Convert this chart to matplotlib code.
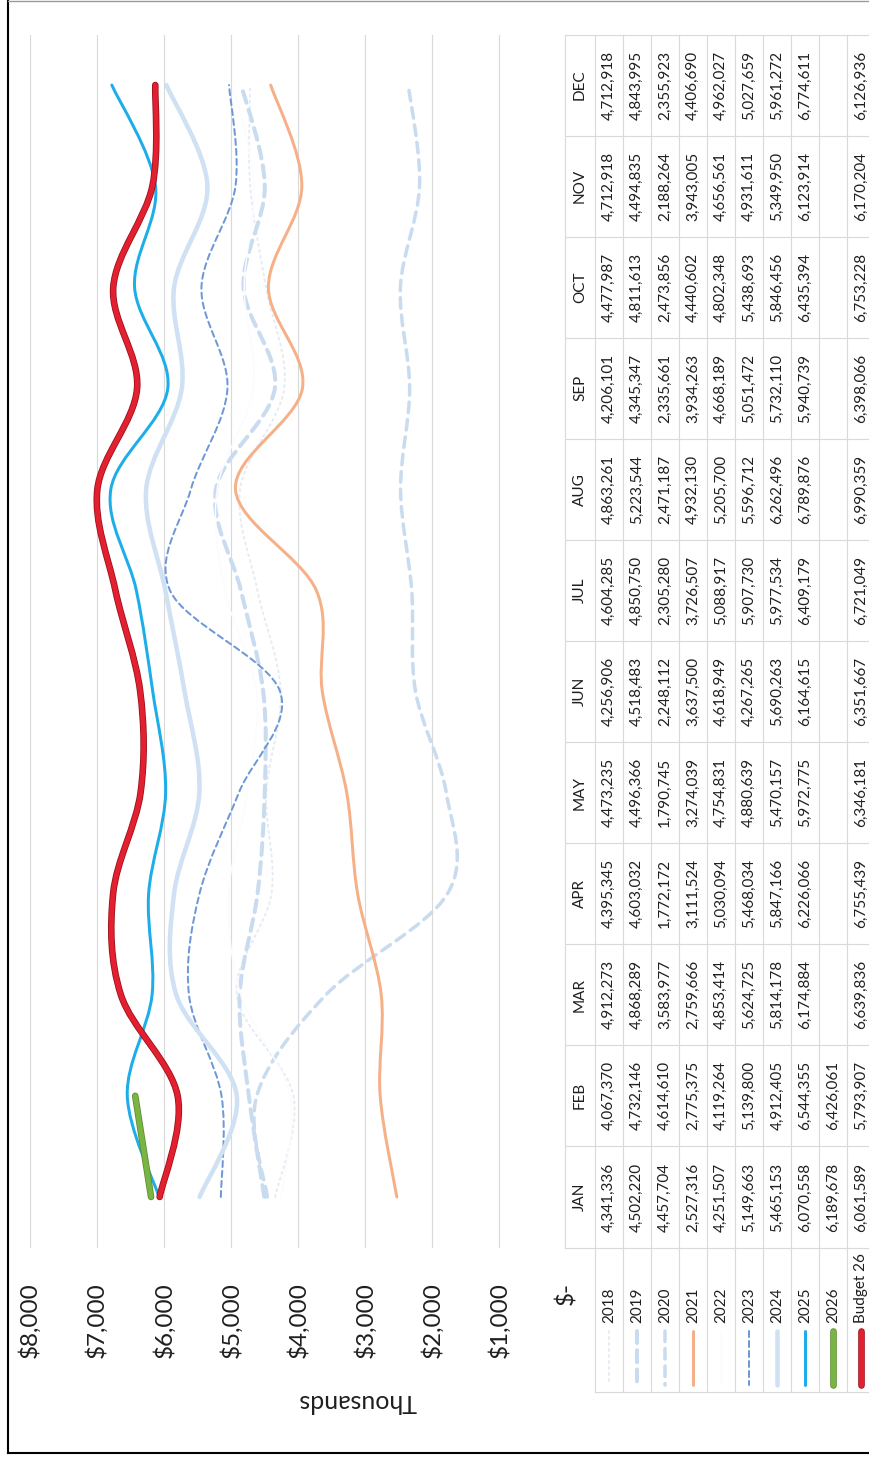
import numpy as np
import matplotlib.pyplot as plt
from matplotlib.path import Path
from matplotlib.patches import PathPatch
from matplotlib.lines import Line2D
import matplotlib.patheffects as pe

plt.rcParams['font.family'] = ['Lato', 'DejaVu Sans']

months = ['JAN', 'FEB', 'MAR', 'APR', 'MAY', 'JUN',
          'JUL', 'AUG', 'SEP', 'OCT', 'NOV', 'DEC']
series_names = ['2018', '2019', '2020', '2021', '2022',
                '2023', '2024', '2025', '2026', 'Budget 26']

v2018 = [4341336, 4067370, 4912273, 4395345, 4473235, 4256906,
         4604285, 4863261, 4206101, 4477987, 4712918, 4712918]
v2019 = [4502220, 4732146, 4868289, 4603032, 4496366, 4518483,
         4850750, 5223544, 4345347, 4811613, 4494835, 4843995]
v2020 = [4457704, 4614610, 3583977, 1772172, 1790745, 2248112,
         2305280, 2471187, 2335661, 2473856, 2188264, 2355923]
v2021 = [2527316, 2775375, 2759666, 3111524, 3274039, 3637500,
         3726507, 4932130, 3934263, 4440602, 3943005, 4406690]
v2022 = [4251507, 4119264, 4853414, 5030094, 4754831, 4618949,
         5088917, 5205700, 4668189, 4802348, 4656561, 4962027]
v2023 = [5149663, 5139800, 5624725, 5468034, 4880639, 4267265,
         5907730, 5596712, 5051472, 5438693, 4931611, 5027659]
v2024 = [5465153, 4912405, 5814178, 5847166, 5470157, 5690263,
         5977534, 6262496, 5732110, 5846456, 5349950, 5961272]
v2025 = [6070558, 6544355, 6174884, 6226066, 5972775, 6164615,
         6409179, 6789876, 5940739, 6435394, 6123914, 6774611]
v2026 = [6189678, 6426061]
budget26 = [6061589, 5793907, 6639836, 6755439, 6346181, 6351667,
            6721049, 6990359, 6398066, 6753228, 6170204, 6126936]

all_series = [v2018, v2019, v2020, v2021, v2022,
              v2023, v2024, v2025, v2026, budget26]

value_ticks = [0, 1000, 2000, 3000, 4000, 5000, 6000, 7000, 8000]

# line looks, widths in pixels, dashes in line-width units
colors = ['#E6ECF4', '#C8DBEF', '#C8DBEF', '#F6B088', '#FBFCFE',
          '#6E98D6', '#CFE1F3', '#1DAEEA', '#7AB544', '#E2202F']
widths = [2, 4, 3.5, 3, 1.5, 2, 4.5, 3, 5, 5]
dashes = [(1, 2), (3, 1.8), (3, 2), None, None,
          (3, 2), None, None, None, None]
edges = [None] * 8 + ['#5A8C30', '#9A0F1B']

PX = 72 / 100
W, H = 869, 1459
TXT = '#1F1F1F'
GRID = '#D9D9D9'


def fx(px):
    return px / W


def fy(py):
    return 1 - py / H


def smooth_path(xs, ys):
    pts = np.column_stack([xs, ys]).astype(float)
    n = len(pts)
    verts = [pts[0]]
    codes = [Path.MOVETO]
    for i in range(n - 1):
        p0 = pts[i - 1] if i > 0 else pts[i]
        p1 = pts[i]
        p2 = pts[i + 1]
        p3 = pts[i + 2] if i + 2 < n else pts[i + 1]
        verts += [p1 + (p2 - p0) / 6, p2 - (p3 - p1) / 6, p2]
        codes += [Path.CURVE4] * 3
    return Path(verts, codes)


def style(i):
    kw = dict(color=colors[i], lw=widths[i] * PX)
    if dashes[i] is not None:
        kw['linestyle'] = (0, dashes[i])
    if edges[i] is not None:
        kw['path_effects'] = [pe.Stroke(linewidth=(widths[i] + 1.6) * PX,
                                        foreground=edges[i]), pe.Normal()]
    return kw


fig = plt.figure(figsize=(W / 100, H / 100), dpi=100)

# chart area (page is turned: values run right to left, months bottom to top)
ax = fig.add_axes([fx(29.6), fy(1247.5), fx(566.4) - fx(29.6), fy(34.5) - fy(1247.5)])
ax.set_xlim(8000, 0)
ax.set_ylim(-0.5, 11.5)
for s in ax.spines.values():
    s.set_visible(False)
ax.set_yticks([])
ax.set_xticks(value_ticks)
ax.set_xticklabels(['$-' if v == 0 else f'${v:,}' for v in value_ticks])
ax.tick_params(axis='x', length=0, pad=25, labelsize=17.5, labelrotation=90, labelcolor=TXT)
ax.grid(axis='x', color=GRID, lw=0.8)
ax.set_xlabel('Thousands', rotation=180, fontsize=18, color=TXT)
ax.xaxis.set_label_coords((357 - 29.6) / 536.8, (1247.5 - 1402) / 1213)
ax.xaxis.label.set_va('center')

for i, vals in enumerate(all_series):
    xs = np.array(vals) / 1000
    ys = np.arange(len(vals))
    kw = style(i)
    patch = PathPatch(smooth_path(xs, ys), fill=False, edgecolor=kw['color'],
                      lw=kw['lw'], linestyle=kw.get('linestyle', '-'),
                      capstyle='round', joinstyle='round', zorder=2 + i)
    if 'path_effects' in kw:
        patch.set_path_effects(kw['path_effects'])
    ax.add_patch(patch)

# data table
ybot = -0.5 - (1392 - 1247.5) / 101.1
hdr = -30 / 28.03
ax_t = fig.add_axes([fx(565), fy(1392), fx(875.3) - fx(565), fy(34.5) - fy(1392)])
ax_t.set_xlim(hdr, 10)
ax_t.set_ylim(ybot, 11.5)
ax_t.axis('off')

for k in range(13):
    ax_t.plot([hdr, 10], [k - 0.5, k - 0.5], color=GRID, lw=0.8, clip_on=False)
ax_t.plot([0, 10], [ybot, ybot], color=GRID, lw=0.8, clip_on=False)
ax_t.plot([hdr, hdr], [-0.5, 11.5], color=GRID, lw=0.8, clip_on=False)
for c in range(11):
    ax_t.plot([c, c], [ybot, 11.5], color=GRID, lw=0.8, clip_on=False)

for m, name in enumerate(months):
    ax_t.text(hdr / 2, m, name, rotation=90, ha='center', va='center',
              fontsize=11, color=TXT)

for i, vals in enumerate(all_series):
    for m, v in enumerate(vals):
        ax_t.text(i + 0.5, m, f'{v:,}', rotation=90, ha='center', va='center',
                  fontsize=11, color=TXT, clip_on=False)
    ax_t.text(i + 0.5, -0.5 - (1323 - 1247.5) / 101.1, series_names[i],
              rotation=90, rotation_mode='anchor', ha='left', va='center',
              fontsize=11, color=TXT)
    kw = style(i)
    ax_t.plot([i + 0.5, i + 0.5],
              [-0.5 - (1331 - 1247.5) / 101.1, -0.5 - (1385 - 1247.5) / 101.1],
              solid_capstyle='round', dash_capstyle='round', **kw)

# page frame
fig.add_artist(Line2D([fx(8), fx(8)], [fy(1), fy(1453)], color='black', lw=1.5))
fig.add_artist(Line2D([fx(8), 1], [fy(1453), fy(1453)], color='black', lw=1.5))
fig.add_artist(Line2D([fx(8), 1], [fy(1), fy(1)], color='#9A9A9A', lw=1))

fig.savefig('out.png', dpi=100)
